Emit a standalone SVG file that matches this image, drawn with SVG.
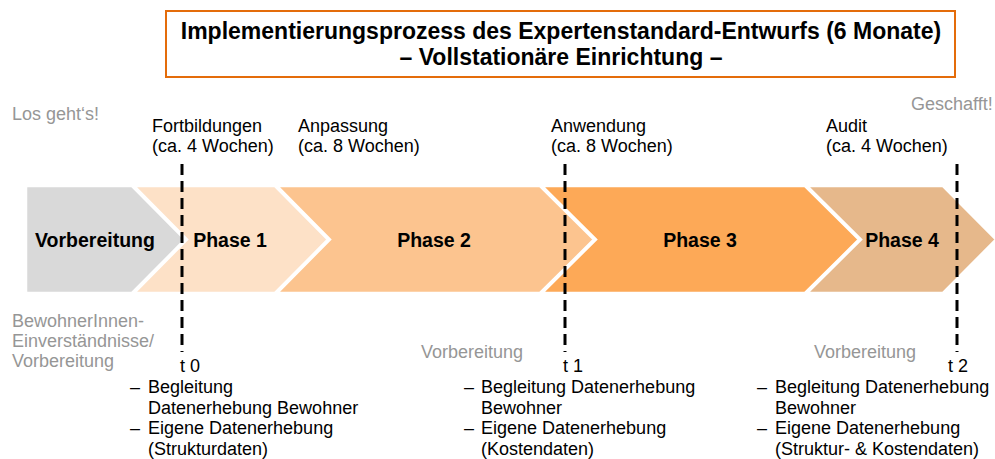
<svg xmlns="http://www.w3.org/2000/svg" width="995" height="459" viewBox="0 0 995 459">
<style>
.t{font-family:"Liberation Sans",Arial,sans-serif;font-size:18px;fill:#000}
.g{font-family:"Liberation Sans",Arial,sans-serif;font-size:18px;fill:#969696}
.lb{font-family:"Liberation Sans",Arial,sans-serif;font-size:19.5px;font-weight:bold;fill:#000;text-anchor:middle}
.ti{font-family:"Liberation Sans",Arial,sans-serif;font-size:23px;font-weight:bold;fill:#000;text-anchor:middle}
.ch{stroke:#fff;stroke-width:2.5;stroke-linejoin:miter}
.dl{stroke:#000;stroke-width:3;stroke-dasharray:11 6;fill:none}
</style>
<rect width="995" height="459" fill="#fff"/>
<g id="title">
<rect x="166" y="11" width="789" height="66" fill="#fff" stroke="#E46C0A" stroke-width="2"/>
<text class="ti" x="561" y="39">Implementierungsprozess des Expertenstandard-Entwurfs (6 Monate)</text>
<text class="ti" x="561" y="65">– Vollstationäre Einrichtung –</text>
</g>
<g id="start-label"><text class="g" x="12" y="120">Los geht‘s!</text></g>
<g id="end-label"><text class="g" x="911" y="110">Geschafft!</text></g>
<g id="durations">
<text class="t" x="152" y="132">Fortbildungen</text>
<text class="t" x="152" y="152">(ca. 4 Wochen)</text>
<text class="t" x="298" y="132">Anpassung</text>
<text class="t" x="298" y="152">(ca. 8 Wochen)</text>
<text class="t" x="551" y="132">Anwendung</text>
<text class="t" x="551" y="152">(ca. 8 Wochen)</text>
<text class="t" x="826" y="132">Audit</text>
<text class="t" x="826" y="152">(ca. 4 Wochen)</text>
</g>
<g id="vorbereitung">
<polygon class="ch" fill="#D9D9D9" points="26,186 132,186 185,239.5 132,293 26,293"/>
<text class="lb" x="95" y="247">Vorbereitung</text>
</g>
<g id="phase1">
<polygon class="ch" fill="#FDE1C7" points="134,186 275,186 328,239.5 275,293 134,293 187,239.5"/>
<text class="lb" x="230" y="247">Phase 1</text>
</g>
<g id="phase2">
<polygon class="ch" fill="#FCC48F" points="277,186 540,186 594,239.5 540,293 277,293 330,239.5"/>
<text class="lb" x="434" y="247">Phase 2</text>
</g>
<g id="phase3">
<polygon class="ch" fill="#FDA957" points="542,186 805,186 859,239.5 805,293 542,293 596,239.5"/>
<text class="lb" x="700" y="247">Phase 3</text>
</g>
<g id="phase4">
<polygon class="ch" fill="#E6B88B" points="807,186 943,186 996,239.5 943,293 807,293 861,239.5"/>
<text class="lb" x="902" y="247">Phase 4</text>
</g>
<g id="connectors">
<line class="dl" x1="182" y1="164" x2="182" y2="352"/>
<line class="dl" x1="565" y1="164" x2="565" y2="352"/>
<line class="dl" x1="957" y1="164" x2="957" y2="352"/>
</g>
<g id="milestone-t0">
<text class="t" x="180" y="372">t 0</text>
<text class="g" x="12" y="327">BewohnerInnen-</text>
<text class="g" x="12" y="347">Einverständnisse/</text>
<text class="g" x="12" y="367">Vorbereitung</text>
<text class="t" x="130" y="393">–</text>
<text class="t" x="148" y="393">Begleitung</text>
<text class="t" x="148" y="414">Datenerhebung Bewohner</text>
<text class="t" x="130" y="434">–</text>
<text class="t" x="148" y="434">Eigene Datenerhebung</text>
<text class="t" x="148" y="455">(Strukturdaten)</text>
</g>
<g id="milestone-t1">
<text class="t" x="563" y="372">t 1</text>
<text class="g" x="421" y="358">Vorbereitung</text>
<text class="t" x="464" y="393">–</text>
<text class="t" x="481" y="393">Begleitung Datenerhebung</text>
<text class="t" x="481" y="414">Bewohner</text>
<text class="t" x="464" y="434">–</text>
<text class="t" x="481" y="434">Eigene Datenerhebung</text>
<text class="t" x="481" y="455">(Kostendaten)</text>
</g>
<g id="milestone-t2">
<text class="t" x="948" y="372">t 2</text>
<text class="g" x="814" y="358">Vorbereitung</text>
<text class="t" x="757" y="393">–</text>
<text class="t" x="775" y="393">Begleitung Datenerhebung</text>
<text class="t" x="775" y="414">Bewohner</text>
<text class="t" x="757" y="434">–</text>
<text class="t" x="775" y="434">Eigene Datenerhebung</text>
<text class="t" x="775" y="455">(Struktur- &amp; Kostendaten)</text>
</g>
</svg>
